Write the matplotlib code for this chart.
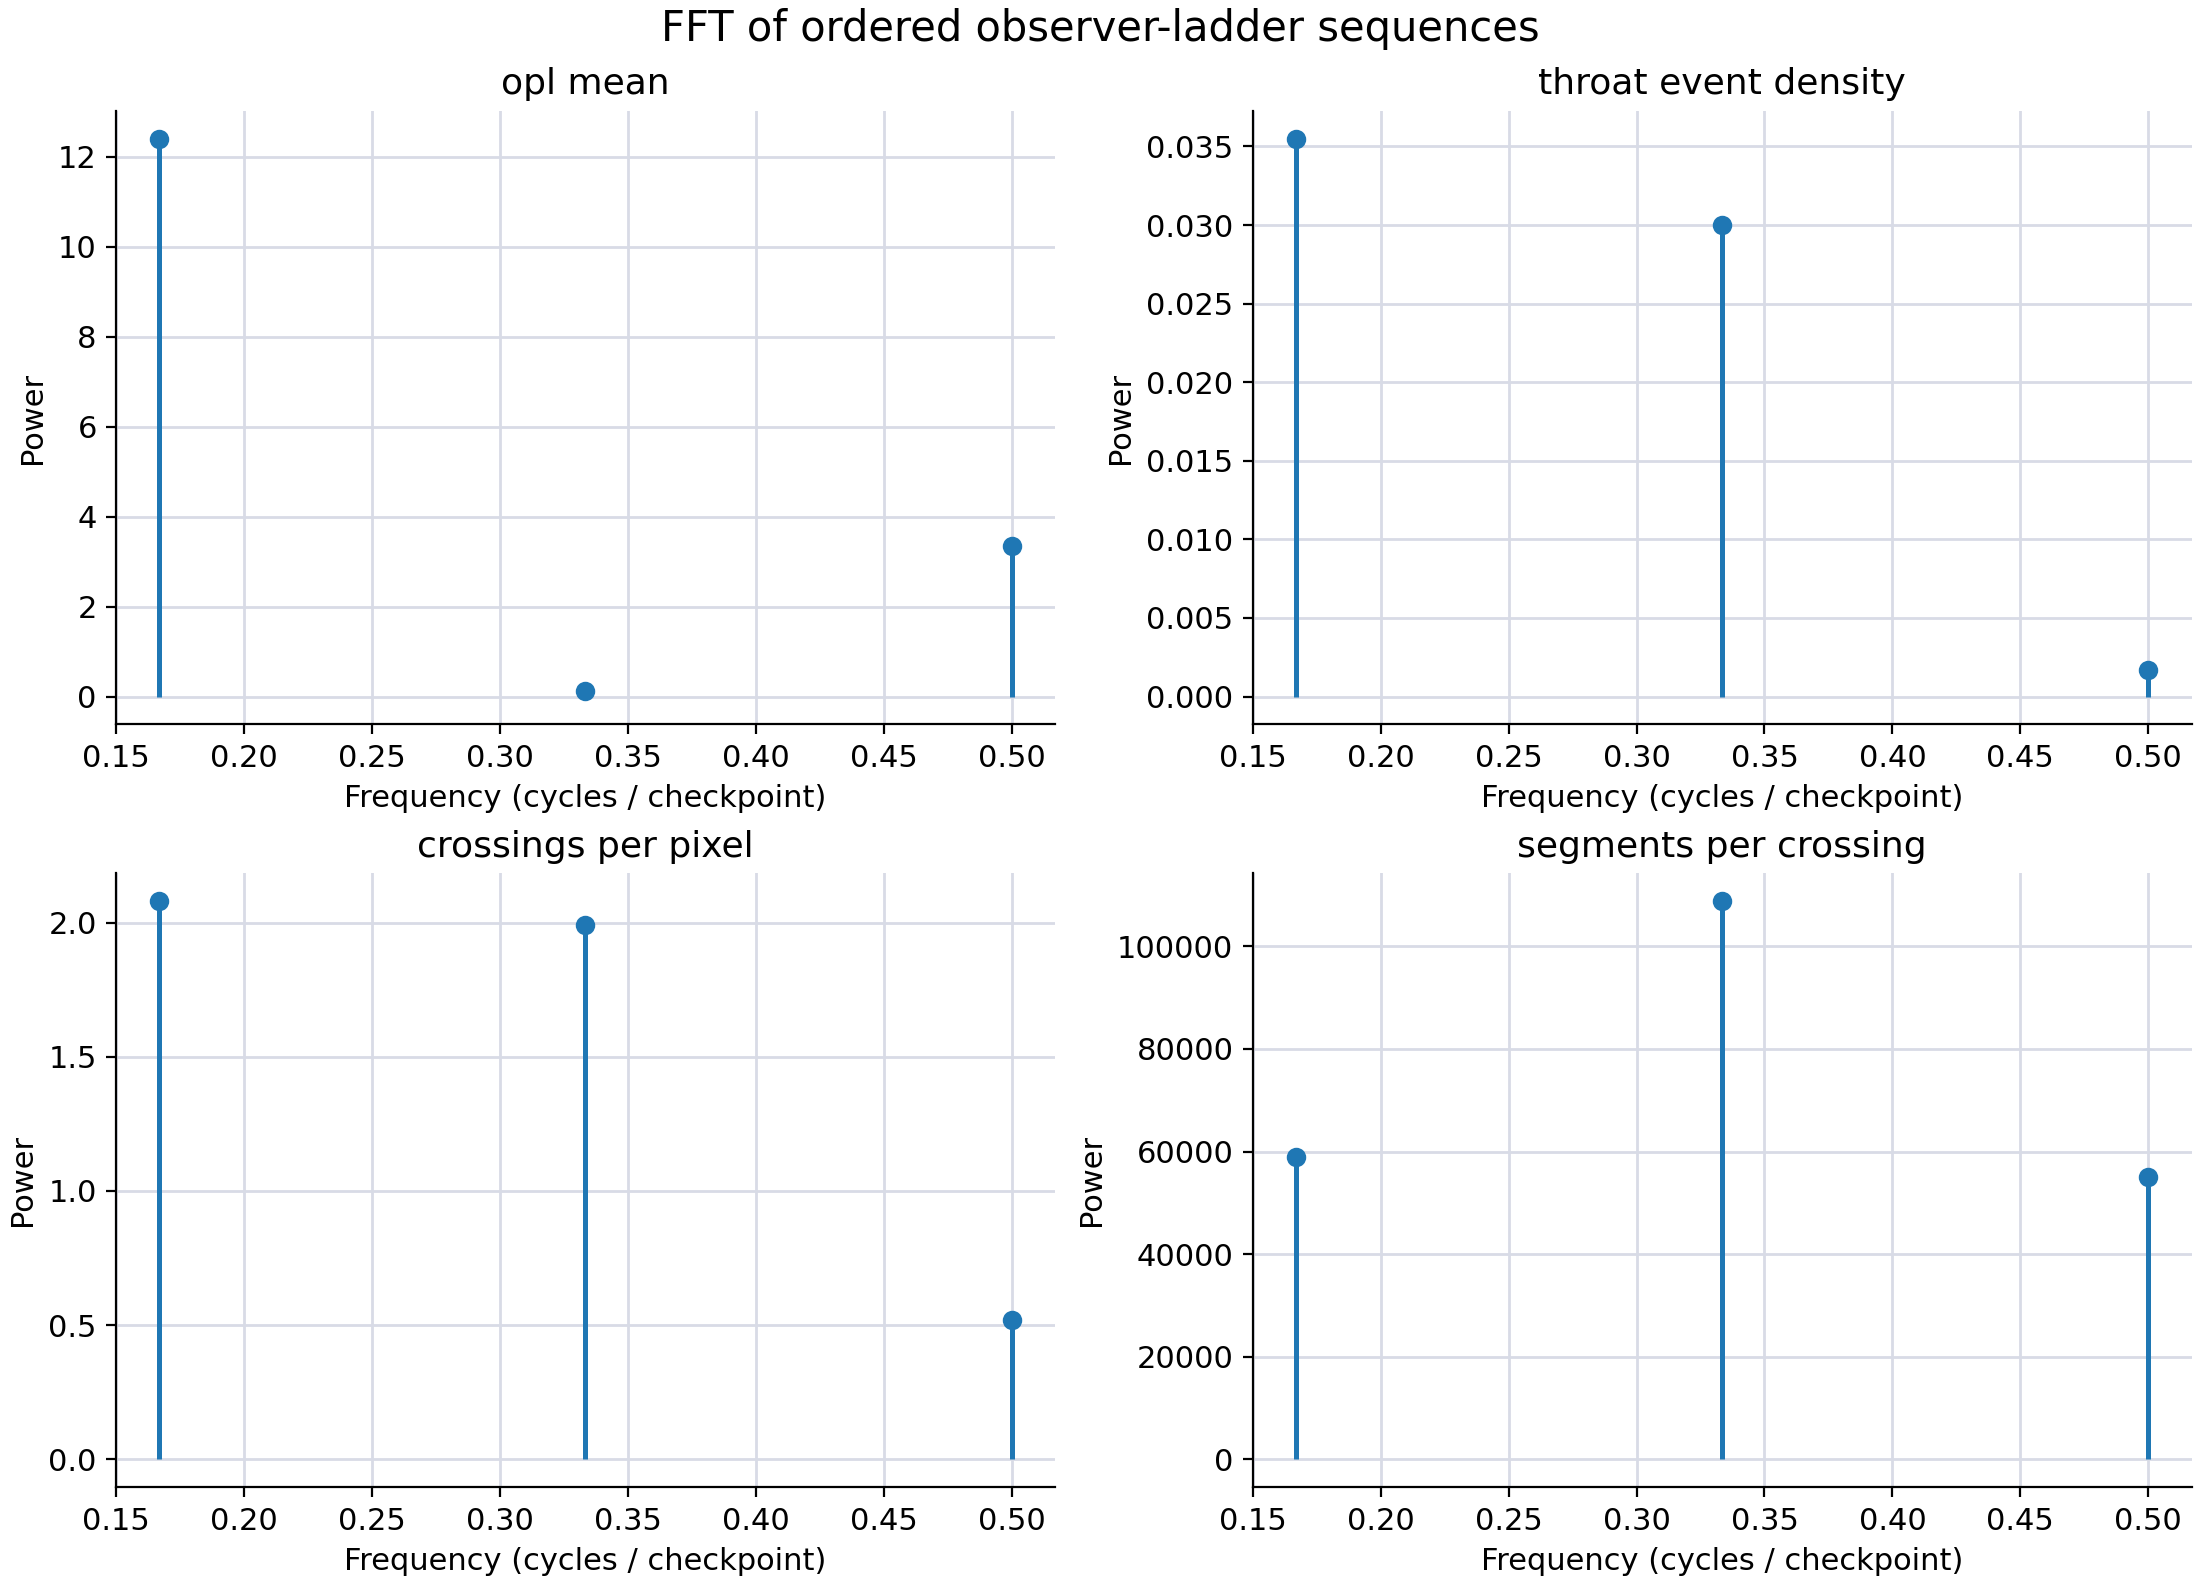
import matplotlib.pyplot as plt

freqs = [1 / 6, 1 / 3, 1 / 2]
titles = ['opl mean', 'throat event density', 'crossings per pixel', 'segments per crossing']
opl_mean = [12.4, 0.12, 3.35]
throat_density = [0.0355, 0.0300, 0.0017]
crossings_pp = [2.08, 1.99, 0.52]
segments_pc = [59000, 108800, 55000]
series = [opl_mean, throat_density, crossings_pp, segments_pc]

fig, axes = plt.subplots(2, 2, figsize=(11, 7.92), dpi=200, layout='constrained')
for ax, title, vals in zip(axes.ravel(), titles, series):
    ml, sl, bl = ax.stem(freqs, vals, linefmt='C0-', markerfmt='C0o', basefmt=' ')
    ml.set_markersize(6)
    sl.set_linewidth(1.8)
    ax.set_title(title, fontsize=13)
    ax.set_xlabel('Frequency (cycles / checkpoint)', fontsize=11)
    ax.set_ylabel('Power', fontsize=11)
    ax.grid(True, color='#d8dbe6', linewidth=1)
    ax.set_axisbelow(True)
    ax.spines['top'].set_visible(False)
    ax.spines['right'].set_visible(False)
    ax.tick_params(labelsize=11)
    ax.set_xticks([0.15, 0.2, 0.25, 0.3, 0.35, 0.4, 0.45, 0.5])
    ax.set_xlim(0.15, 0.517)

fig.suptitle('FFT of ordered observer-ladder sequences', fontsize=15)
fig.savefig('out.png')
